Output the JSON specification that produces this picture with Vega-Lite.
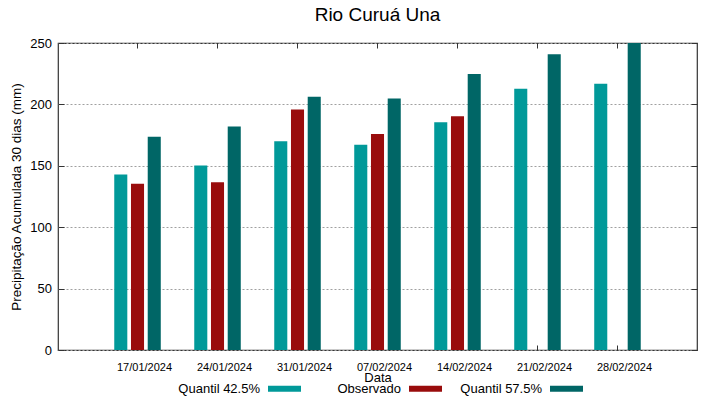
{
  "$schema": "https://vega.github.io/schema/vega-lite/v6.json",
  "width": 639,
  "height": 307,
  "autosize": {"type": "none"},
  "padding": {"left": 58, "top": 43, "right": 22, "bottom": 49},
  "background": "white",
  "config": {
    "font": "Liberation Sans",
    "view": {"stroke": "#333333", "strokeWidth": 1.2},
    "axis": {"labelColor": "black", "titleColor": "black", "labelFont": "Liberation Sans", "titleFont": "Liberation Sans", "titleFontWeight": "normal", "tickColor": "#333333", "domain": false}
  },
  "title": {"text": "Rio Curuá Una", "fontSize": 19, "fontWeight": "normal", "font": "Liberation Sans", "color": "black", "anchor": "middle", "offset": 12},
  "data": {"values": [
    {"date": "17/01/2024", "series": "Quantil 42.5%", "value": 142.9},
    {"date": "17/01/2024", "series": "Observado", "value": 135.3},
    {"date": "17/01/2024", "series": "Quantil 57.5%", "value": 173.7},
    {"date": "24/01/2024", "series": "Quantil 42.5%", "value": 150.2},
    {"date": "24/01/2024", "series": "Observado", "value": 136.6},
    {"date": "24/01/2024", "series": "Quantil 57.5%", "value": 182.1},
    {"date": "31/01/2024", "series": "Quantil 42.5%", "value": 170.0},
    {"date": "31/01/2024", "series": "Observado", "value": 195.9},
    {"date": "31/01/2024", "series": "Quantil 57.5%", "value": 206.3},
    {"date": "07/02/2024", "series": "Quantil 42.5%", "value": 167.1},
    {"date": "07/02/2024", "series": "Observado", "value": 175.8},
    {"date": "07/02/2024", "series": "Quantil 57.5%", "value": 204.9},
    {"date": "14/02/2024", "series": "Quantil 42.5%", "value": 185.4},
    {"date": "14/02/2024", "series": "Observado", "value": 190.3},
    {"date": "14/02/2024", "series": "Quantil 57.5%", "value": 224.8},
    {"date": "21/02/2024", "series": "Quantil 42.5%", "value": 212.8},
    {"date": "21/02/2024", "series": "Quantil 57.5%", "value": 240.8},
    {"date": "28/02/2024", "series": "Quantil 42.5%", "value": 216.8},
    {"date": "28/02/2024", "series": "Quantil 57.5%", "value": 250}
  ]},
  "resolve": {"axis": {"x": "independent", "y": "independent"}},
  "layer": [
    {
      "mark": {"type": "bar", "clip": true},
      "encoding": {
        "x": {"field": "date", "type": "ordinal", "sort": null,
          "scale": {"paddingInner": 0, "paddingOuter": 0.494},
          "axis": {"title": "Data", "titleFontSize": 13, "titlePadding": -1, "labelFontSize": 11, "labelAngle": 0, "tickSize": -5, "labelPadding": 16, "labelOffset": 7, "grid": false}},
        "xOffset": {"field": "series", "type": "nominal",
          "scale": {"domain": ["Quantil 42.5%", "Observado", "Quantil 57.5%"], "paddingInner": 0.22, "paddingOuter": 1.11}},
        "y": {"field": "value", "type": "quantitative",
          "scale": {"domain": [0, 250], "nice": false},
          "axis": {"title": "Precipitação Acumulada 30 dias (mm)", "titleFontSize": 13.5, "titlePadding": 6, "labelFontSize": 13, "values": [0, 50, 100, 150, 200, 250], "tickSize": -6, "labelPadding": 12.5, "grid": true, "gridColor": "#a0a0a0", "gridDash": [2, 2], "gridWidth": 1}},
        "color": {"field": "series", "type": "nominal",
          "scale": {"domain": ["Quantil 42.5%", "Observado", "Quantil 57.5%"], "range": ["#009999", "#990c0c", "#006666"]},
          "legend": {"title": null, "orient": "none", "direction": "horizontal", "legendX": 210, "legendY": 329,
            "symbolType": "M-1,-0.18H1V0.18H-1Z", "symbolSize": 1089, "symbolStrokeWidth": 0,
            "labelFontSize": 13, "labelColor": "black", "labelFont": "Liberation Sans",
            "labelAlign": "right", "labelOffset": -41, "columnPadding": 18, "gridAlign": "all",
            "labelExpr": "datum.label == 'Observado' ? '\u00a0\u00a0\u00a0\u00a0\u00a0Observado' : datum.label"}}
      }
    },
    {
      "mark": {"type": "point", "opacity": 0},
      "encoding": {
        "x": {"field": "date", "type": "ordinal", "sort": null,
          "axis": {"orient": "top", "labels": false, "title": null, "tickSize": -5, "grid": false}},
        "y": {"field": "value", "type": "quantitative",
          "axis": {"orient": "right", "labels": false, "title": null, "values": [0, 50, 100, 150, 200, 250], "tickSize": -6, "grid": false}}
      }
    }
  ]
}
